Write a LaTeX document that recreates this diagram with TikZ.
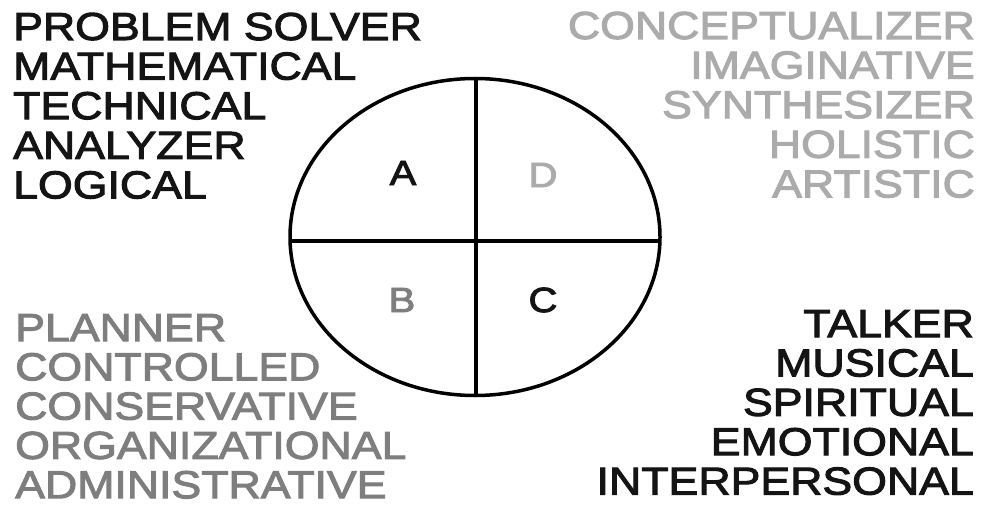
\documentclass[tikz,border=0pt]{standalone}
\usepackage{fontspec}
\setmainfont{Liberation Sans}
\newfontfamily\wide{Liberation Sans}[FakeStretch=1.145, FakeBold=2.6]
\definecolor{inkA}{HTML}{141414}
\definecolor{inkD}{HTML}{ABABAB}
\definecolor{inkB}{HTML}{7E7E7E}
\begin{document}
\begin{tikzpicture}[x=1pt,y=-1pt,
  word/.style={inner sep=0pt, text depth=0pt, font=\fontsize{39}{40}\selectfont\wide},
  letter/.style={inner sep=0pt, font=\fontsize{35}{36}\selectfont\wide},
  rule/.style={line width=3.5pt, draw=black}]
\useasboundingbox[fill=white] (0,0) rectangle (981,505);
% ellipse and quadrants
\coordinate (ctr) at (475,237);
\draw[rule] (ctr) ellipse [x radius=185, y radius=158.5];
\coordinate (top) at (476,79);
\coordinate (bot) at (476,395);
\coordinate (lft) at (291,241);
\coordinate (rgt) at (659,241);
\draw[rule] (top) -- (bot);
\draw[rule] (lft) -- (rgt);
% quadrant letters
\node[letter, text=inkA] (qa) at (403,173) {A};
\node[letter, text=inkD] (qd) at (543,175) {D};
\node[letter, text=inkB] (qb) at (402,300) {B};
\node[letter, text=inkA] (qc) at (543,300) {C};
% top-left (A)
\foreach \t [count=\i from 0] in {PROBLEM SOLVER,MATHEMATICAL,TECHNICAL,ANALYZER,LOGICAL}
  \node[word, text=inkA, anchor=base west] (tl\i) at (13,{40+39.6*\i}) {\t};
% top-right (D)
\foreach \t [count=\i from 0] in {CONCEPTUALIZER,IMAGINATIVE,SYNTHESIZER,HOLISTIC,ARTISTIC}
  \node[word, text=inkD, anchor=base east] (tr\i) at (975,{39+39.6*\i}) {\t};
% bottom-left (B)
\foreach \t [count=\i from 0] in {PLANNER,CONTROLLED,CONSERVATIVE,ORGANIZATIONAL,ADMINISTRATIVE}
  \node[word, text=inkB, anchor=base west] (bl\i) at (15,{341+39.3*\i}) {\t};
% bottom-right (C)
\foreach \t [count=\i from 0] in {TALKER,MUSICAL,SPIRITUAL,EMOTIONAL,INTERPERSONAL}
  \node[word, text=inkA, anchor=base east] (br\i) at (974,{337+39.4*\i}) {\t};
\end{tikzpicture}
\end{document}
